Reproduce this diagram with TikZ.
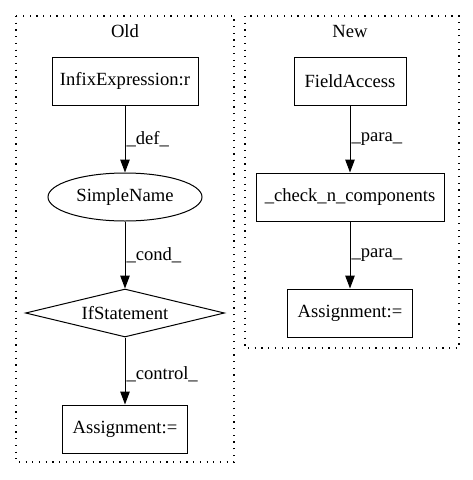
\documentclass[tikz,border=0pt]{standalone}
\usepackage{fontspec}
\setmainfont{Liberation Serif}
\usetikzlibrary{shapes.geometric,arrows.meta}

\tikzset{
    every node/.style={font=\fontsize{18.6}{22}\selectfont},
    box/.style={draw,line width=1pt,inner sep=0pt,minimum height=48pt},
    flow/.style={-{Triangle[length=13pt,width=9.5pt]},line width=1pt},
    lbl/.style={right,inner sep=1pt},
    cluster/.style={line width=1.2pt,dash pattern=on 1.2pt off 5.5pt}
}

\begin{document}
\begin{tikzpicture}[x=1pt,y=-1pt]
    \useasboundingbox (0,0) rectangle (472,480);

    % Old cluster
    \draw[cluster] (16,16) rectangle (234,462);
    \node (oldtitle) at (125,31) {Old};

    \node[box,minimum width=146pt] (infix) at (125,81) {InfixExpression:r};
    \node[box,ellipse,minimum width=154pt] (simple) at (125,197) {SimpleName};
    \node[box,diamond,shape aspect=4.15,minimum width=199pt] (ifstmt) at (125,313) {IfStatement};
    \node[box,minimum width=125pt] (assignold) at (125,429) {Assignment:=};

    \draw[flow] (infix) -- node[lbl] {\_def\_} (simple);
    \draw[flow] (simple) -- node[lbl] {\_cond\_} (ifstmt);
    \draw[flow] (ifstmt) -- node[lbl,pos=0.55] {\_control\_} (assignold);

    % New cluster
    \draw[cluster] (245,16) rectangle (459,348);
    \node (newtitle) at (350,31) {New};

    \node[box,minimum width=112pt] (field) at (350,81) {FieldAccess};
    \node[box,minimum width=188pt] (check) at (350,197) {\_check\_n\_components};
    \node[box,minimum width=125pt] (assignnew) at (350,313) {Assignment:=};

    \draw[flow] (field) -- node[lbl] {\_para\_} (check);
    \draw[flow] (check) -- node[lbl] {\_para\_} (assignnew);
\end{tikzpicture}
\end{document}
